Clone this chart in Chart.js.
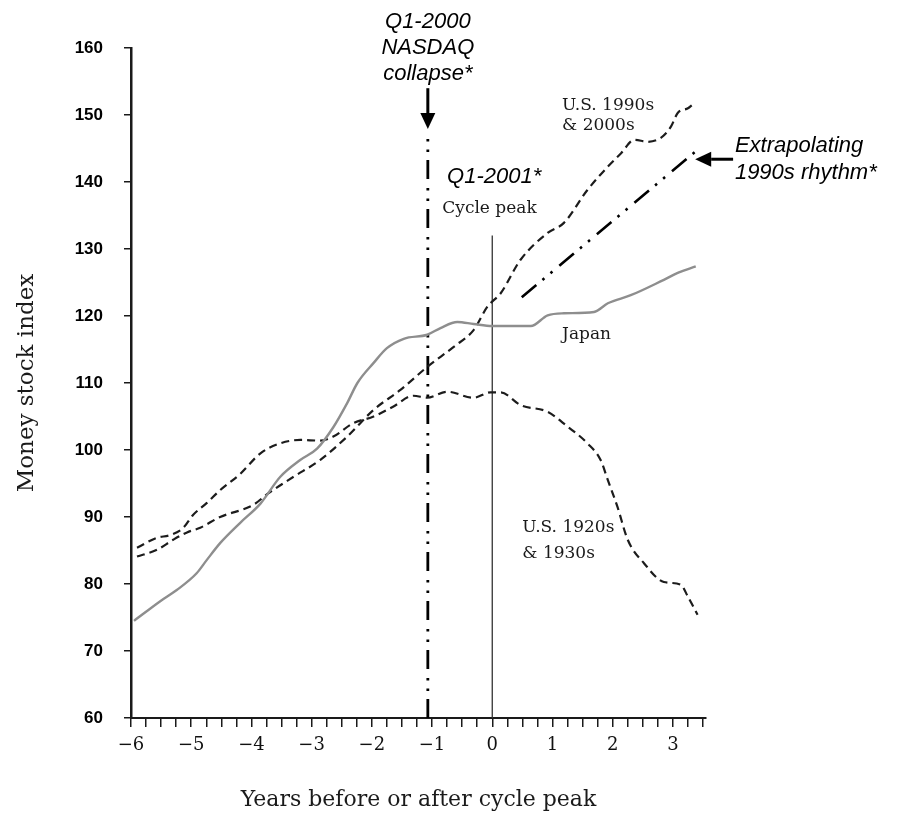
<!DOCTYPE html>
<html>
<head>
<meta charset="utf-8">
<title>Money stock index</title>
<script src="https://cdn.jsdelivr.net/npm/chart.js@4.4.1/dist/chart.umd.min.js"></script>
<style>
  html, body { margin: 0; padding: 0; background: #fff; }
  canvas { display: block; }
</style>
</head>
<body>
<canvas id="moneyChart" width="900" height="816"></canvas>
<script>
// ===== DATA =====
const japanX = [-5.95, -5.52, -5.24, -4.91, -4.74, -4.52, -4.19, -3.85, -3.52, -3.19, -2.91, -2.64, -2.41, -2.24, -1.97, -1.75, -1.47, -1.08, -0.86, -0.58, -0.31, 0.0, 0.64, 0.92, 1.19, 1.69, 1.92, 2.30, 2.85, 3.10, 3.38];
const japanY = [74.5, 77.4, 79.1, 81.6, 83.6, 86.1, 89.1, 92.0, 96.0, 98.5, 100.2, 103.4, 107.0, 110.0, 113.0, 115.2, 116.6, 117.2, 118.2, 119.1, 118.8, 118.5, 118.5, 120.1, 120.4, 120.6, 121.9, 123.1, 125.4, 126.5, 127.4];

const us1920X = [-5.9, -5.57, -5.35, -5.13, -4.97, -4.74, -4.52, -4.19, -3.85, -3.52, -3.19, -2.86, -2.64, -2.31, -1.97, -1.64, -1.31, -1.08, -0.75, -0.31, -0.03, 0.14, 0.47, 0.92, 1.25, 1.58, 1.80, 1.92, 2.08, 2.25, 2.52, 2.85, 3.13, 3.25, 3.41];
const us1920Y = [85.4, 86.9, 87.3, 88.4, 90.3, 92.1, 94.0, 96.4, 99.5, 101.0, 101.5, 101.4, 102.0, 104.0, 105.0, 106.5, 108.1, 107.8, 108.7, 107.8, 108.6, 108.6, 106.7, 105.7, 103.5, 101.0, 98.5, 95.5, 91.5, 86.6, 83.1, 80.3, 79.9, 78.1, 75.4];

const us1990X = [-5.9, -5.57, -5.30, -5.07, -4.85, -4.52, -3.97, -3.74, -3.30, -2.86, -2.41, -1.97, -1.52, -1.08, -0.64, -0.31, -0.08, 0.14, 0.47, 0.92, 1.19, 1.58, 1.92, 2.14, 2.36, 2.58, 2.80, 2.97, 3.08, 3.25, 3.32];
const us1990Y = [84.1, 85.1, 86.6, 87.7, 88.4, 90.0, 91.8, 93.4, 96.0, 98.5, 102.0, 106.0, 109.0, 112.4, 115.4, 117.9, 121.4, 123.4, 128.4, 132.4, 133.9, 138.8, 142.3, 144.3, 146.3, 146.0, 146.6, 148.3, 150.3, 151.0, 151.5];

const extrapX = [0.49, 3.41];
const extrapY = [122.8, 144.8];

const nasdaqX = [-1.07, -1.07];
const nasdaqY = [60, 146.6];
const peakX = [0, 0];
const peakY = [60, 132];

const xMin = -6, xMax = 3.55;
const yMin = 60, yMax = 160;

const pts = (xs, ys) => xs.map((x, i) => ({ x: x, y: ys[i] }));

// ===== ANNOTATIONS =====
const ARIAL_I = 'italic 22px "Liberation Sans", Arial, sans-serif';
const SERIF = '17px "DejaVu Serif", serif';

const notes = [
    { t: 'Q1-2000', x: -1.07, y: 163.9, font: ARIAL_I, align: 'center', color: '#000' },
    { t: 'NASDAQ', x: -1.07, y: 160.0, font: ARIAL_I, align: 'center', color: '#000' },
    { t: 'collapse*', x: -1.07, y: 156.1, font: ARIAL_I, align: 'center', color: '#000' },
    { t: 'Q1-2001*', x: -0.75, y: 140.7, font: ARIAL_I, align: 'left', color: '#000' },
    { t: 'Cycle peak', x: -0.83, y: 136.0, font: SERIF, align: 'left', color: '#1a1a1a' },
    { t: 'U.S. 1990s', x: 1.16, y: 151.4, font: SERIF, align: 'left', color: '#1a1a1a' },
    { t: '& 2000s', x: 1.16, y: 148.4, font: SERIF, align: 'left', color: '#1a1a1a' },
    { t: 'Extrapolating', x: 4.03, y: 145.4, font: ARIAL_I, align: 'left', color: '#000' },
    { t: '1990s rhythm*', x: 4.03, y: 141.4, font: ARIAL_I, align: 'left', color: '#000' },
    { t: 'Japan', x: 1.16, y: 117.3, font: SERIF, align: 'left', color: '#1a1a1a' },
    { t: 'U.S. 1920s', x: 0.50, y: 88.4, font: SERIF, align: 'left', color: '#1a1a1a' },
    { t: '& 1930s', x: 0.50, y: 84.5, font: SERIF, align: 'left', color: '#1a1a1a' }
];
const arrows = [
    { x1: -1.07, y1: 154.0, x2: -1.07, y2: 147.9 },
    { x1: 4.0, y1: 143.4, x2: 3.37, y2: 143.4 }
];

const notesPlugin = {
    id: 'notes',
    afterDraw(chart) {
        const { ctx, scales: { x, y } } = chart;
        ctx.save();
        ctx.textBaseline = 'middle';
        notes.forEach(n => {
            ctx.font = n.font;
            ctx.fillStyle = n.color;
            ctx.textAlign = n.align;
            ctx.fillText(n.t, x.getPixelForValue(n.x), y.getPixelForValue(n.y));
        });
        ctx.strokeStyle = '#000';
        ctx.fillStyle = '#000';
        ctx.lineWidth = 3;
        arrows.forEach(a => {
            const x1 = x.getPixelForValue(a.x1), y1 = y.getPixelForValue(a.y1);
            const x2 = x.getPixelForValue(a.x2), y2 = y.getPixelForValue(a.y2);
            const ang = Math.atan2(y2 - y1, x2 - x1);
            const hl = 16, hw = 7.5;
            const bx = x2 - hl * Math.cos(ang), by = y2 - hl * Math.sin(ang);
            ctx.beginPath();
            ctx.moveTo(x1, y1);
            ctx.lineTo(bx, by);
            ctx.stroke();
            ctx.beginPath();
            ctx.moveTo(x2, y2);
            ctx.lineTo(bx + hw * Math.sin(ang), by - hw * Math.cos(ang));
            ctx.lineTo(bx - hw * Math.sin(ang), by + hw * Math.cos(ang));
            ctx.closePath();
            ctx.fill();
        });
        ctx.restore();
    }
};

// ===== CHART =====
Chart.defaults.font.family = '"DejaVu Serif", serif';
Chart.defaults.color = '#222';

const DASH_DOT_DOT = [19, 8, 2.5, 8, 2.5, 9];

new Chart(document.getElementById('moneyChart'), {
    type: 'line',
    data: {
        datasets: [
            { label: 'Japan', data: pts(japanX, japanY), borderColor: '#8e8e8e', borderWidth: 2.4, cubicInterpolationMode: 'monotone' },
            { label: 'U.S. 1920s & 1930s', data: pts(us1920X, us1920Y), borderColor: '#1c1c1c', borderWidth: 2.2, borderDash: [8, 5], cubicInterpolationMode: 'monotone' },
            { label: 'U.S. 1990s & 2000s', data: pts(us1990X, us1990Y), borderColor: '#1c1c1c', borderWidth: 2.2, borderDash: [8, 5], cubicInterpolationMode: 'monotone' },
            { label: 'Extrapolating', data: pts(extrapX, extrapY), borderColor: '#000', borderWidth: 2.6, borderDash: DASH_DOT_DOT },
            { label: 'Q1-2000', data: pts(nasdaqX, nasdaqY), borderColor: '#000', borderWidth: 2.8, borderDash: DASH_DOT_DOT },
            { label: 'Cycle peak', data: pts(peakX, peakY), borderColor: '#333', borderWidth: 1.3 }
        ]
    },
    options: {
        responsive: false,
        animation: false,
        parsing: false,
        elements: { point: { radius: 0 }, line: { fill: false } },
        layout: { padding: { left: 0, top: 48, right: 194, bottom: 0 } },
        plugins: { legend: { display: false }, tooltip: { enabled: false } },
        scales: {
            x: {
                type: 'linear', min: xMin, max: xMax,
                afterFit: s => { s.height = 98; },
                border: { color: '#1a1a1a', width: 2 },
                grid: { drawOnChartArea: false, drawTicks: true, tickLength: 9, color: '#1a1a1a', lineWidth: 1.5 },
                ticks: {
                    stepSize: 0.25, autoSkip: false, includeBounds: false, maxRotation: 0, padding: 8,
                    color: '#111', font: { size: 18, family: '"DejaVu Serif", serif' },
                    callback: v => Number.isInteger(v) ? (v < 0 ? '\u2212' + Math.abs(v) : String(v)) : ''
                },
                title: { display: true, text: 'Years before or after cycle peak', color: '#1a1a1a', font: { size: 22, family: '"DejaVu Serif", serif' }, padding: { top: 0, bottom: 3 } }
            },
            y: {
                min: yMin, max: yMax,
                afterFit: s => { s.width = 131; },
                border: { color: '#1a1a1a', width: 2.5 },
                grid: { drawOnChartArea: false, drawTicks: true, tickLength: 7, color: '#1a1a1a', lineWidth: 1.5 },
                ticks: { stepSize: 10, padding: 21, color: '#000', font: { size: 17, weight: 'bold', family: '"Liberation Sans", Arial, sans-serif' } },
                title: { display: true, text: 'Money stock index', color: '#1a1a1a', font: { size: 23, family: '"DejaVu Serif", serif' }, padding: { top: 13, bottom: 0 } }
            }
        }
    },
    plugins: [notesPlugin]
});
</script>
</body>
</html>
